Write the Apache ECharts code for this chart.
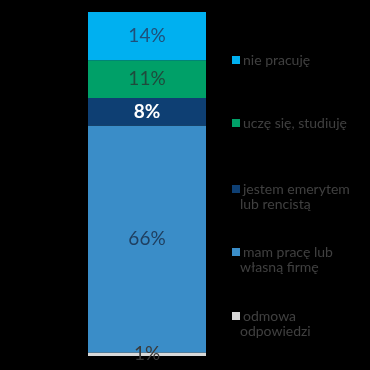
<!DOCTYPE html>
<html><head><meta charset="utf-8">
<script src="https://cdn.jsdelivr.net/npm/echarts@6/dist/echarts.min.js"></script>
<style>html,body{margin:0;padding:0;background:#000;}#c{width:370px;height:370px;}</style>
</head><body><div id="c"></div>
<script>
const categories = ['Ogółem'];
const seriesNames = ['odmowa odpowiedzi', 'mam pracę lub własną firmę', 'jestem emerytem lub rencistą', 'uczę się, studiuję', 'nie pracuję'];
const seriesValues = [[1], [66], [8], [11], [14]];
const seriesColors = ['#D9D9D9', '#3A8DC8', '#0E3F73', '#00A068', '#00B0F0'];
const legendLine1 = ['odmowa', 'mam pracę lub', 'jestem emerytem', 'uczę się, studiuję', 'nie pracuję'];
const legendLine2 = ['odpowiedzi', 'własną firmę', 'lub rencistą', '', ''];
const legendTops = [304, 240, 177, 111, 48];

const font = 'Lato, "Open Sans", sans-serif';
const labelColors = ['#3a3a3a', '#1F3F60', '#ffffff', '#1F4A3C', '#1F4F7A'];

const series = seriesNames.map((n, i) => ({
  name: n, type: 'bar', stack: 'all', data: seriesValues[i],
  barWidth: 118,
  itemStyle: { color: seriesColors[i] },
  label: {
    show: true, position: 'inside', formatter: '{c}%',
    fontFamily: font, fontSize: 19,
    fontWeight: i === 2 ? 'bold' : 'normal',
    color: labelColors[i]
  }
}));

const legends = seriesNames.map((n, i) => ({
  data: [n], left: 227, top: legendTops[i], itemWidth: 8, itemHeight: 8, itemGap: 0,
  icon: 'rect',
  formatter: () => legendLine1[i],
  textStyle: { color: '#404040', fontFamily: font, fontSize: 14, padding: [0, 0, 0, -2] },
  selectedMode: false
}));

const graphics = legendLine2.map((t, i) => t ? ({
  type: 'text', left: 240, top: legendTops[i] + 20,
  style: { text: t, fill: '#404040', font: '14px ' + font }
}) : null).filter(Boolean);

const chart = echarts.init(document.getElementById('c'));
chart.setOption({
  backgroundColor: '#000000',
  animation: false,
  grid: { left: 88, width: 118, top: 12, bottom: 14 },
  xAxis: { type: 'category', data: categories, show: false },
  yAxis: { type: 'value', min: 0, max: 100, show: false },
  legend: legends,
  graphic: graphics,
  series: series
});
</script></body></html>
